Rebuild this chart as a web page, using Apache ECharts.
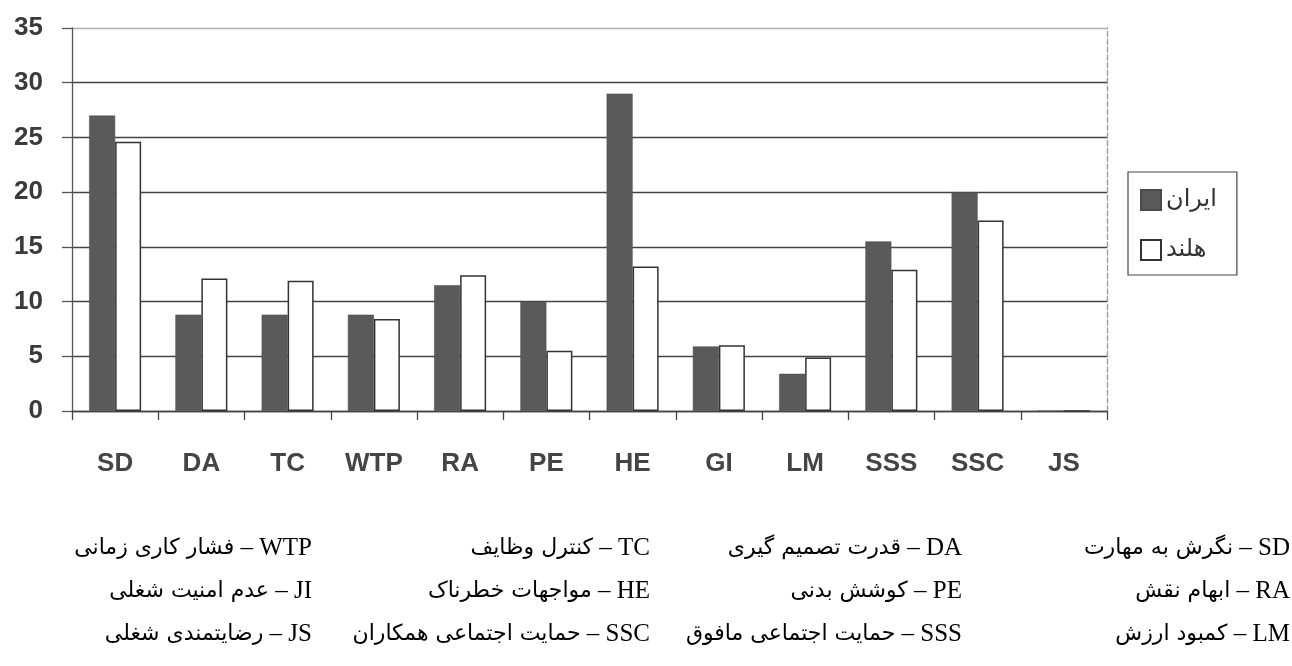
<!DOCTYPE html>
<html>
<head>
<meta charset="utf-8">
<script src="https://cdn.jsdelivr.net/npm/echarts@6/dist/echarts.min.js"></script>
<style>
html,body{margin:0;padding:0;background:#fff;}
#chart{width:1292px;height:666px;}
</style>
</head>
<body>
<div id="chart"></div>
<script>
// ---- data ----
var categories = ['SD','DA','TC','WTP','RA','PE','HE','GI','LM','SSS','SSC','JS'];
var iran = [27, 8.8, 8.8, 8.8, 11.5, 10, 29, 5.9, 3.4, 15.5, 20, 0];
var netherlands = [24.6, 12.1, 11.9, 8.4, 12.4, 5.5, 13.2, 6.0, 4.9, 12.9, 17.4, 0];
var seriesNames = ['ایران', 'هلند'];
var yTicks = [0, 5, 10, 15, 20, 25, 30, 35];
// glossary columns (right to left), rows top to bottom
var glossAbbr = [
  ['SD', 'RA', 'LM'],
  ['DA', 'PE', 'SSS'],
  ['TC', 'HE', 'SSC'],
  ['WTP', 'JI', 'JS']
];
var glossDesc = [
  ['نگرش به مهارت', 'ابهام نقش', 'کمبود ارزش'],
  ['قدرت تصمیم گیری', 'کوشش بدنی', 'حمایت اجتماعی مافوق'],
  ['کنترل وظایف', 'مواجهات خطرناک', 'حمایت اجتماعی همکاران'],
  ['فشار کاری زمانی', 'عدم امنیت شغلی', 'رضایتمندی شغلی']
];

var chart = echarts.init(document.getElementById('chart'));

var colRight = [1290, 962, 650, 312];
var rowY = [548, 591, 634];
var graphics = [];
for (var c = 0; c < glossAbbr.length; c++) {
  for (var r = 0; r < glossAbbr[c].length; r++) {
    graphics.push({
      type: 'text',
      x: colRight[c],
      y: rowY[r],
      style: {
        text: '{fa|' + glossDesc[c][r] + '}{ab| – ' + glossAbbr[c][r] + '}',
        align: 'right',
        verticalAlign: 'middle',
        rich: {
          fa: {fontFamily: '"DejaVu Sans", "Noto Sans", sans-serif', fontSize: 22, color: '#333'},
          ab: {fontFamily: '"Liberation Serif", "DejaVu Serif", serif', fontSize: 25, color: '#333'}
        }
      }
    });
  }
}

var gridColors = yTicks.map(function (v, i) { return i === yTicks.length - 1 ? '#b0b0b0' : '#444'; });

chart.setOption({
  animation: false,
  backgroundColor: '#fff',
  grid: {left: 72, right: 185, top: 28, bottom: 255, containLabel: false},
  legend: {
    orient: 'vertical',
    left: 1128,
    top: 172,
    padding: [16, 20, 13, 12],
    itemGap: 26,
    itemWidth: 20,
    itemHeight: 20,
    icon: 'rect',
    borderColor: '#444',
    borderWidth: 1.2,
    textStyle: {fontFamily: '"DejaVu Sans", sans-serif', fontSize: 24, color: '#333'},
    data: seriesNames
  },
  xAxis: {
    type: 'category',
    data: categories,
    boundaryGap: true,
    axisLine: {lineStyle: {color: '#444', width: 1.3}},
    axisTick: {show: true, alignWithLabel: false, length: 9, lineStyle: {color: '#444', width: 1.3}},
    axisLabel: {margin: 40, fontFamily: '"Liberation Sans", Arial, sans-serif', fontWeight: 'bold', fontSize: 26, color: '#444'},
    splitLine: {show: false}
  },
  yAxis: [{
    type: 'value',
    min: 0,
    max: 35,
    interval: 5,
    axisLine: {show: true, lineStyle: {color: '#555', width: 1.3}},
    axisTick: {show: true, length: 10, lineStyle: {color: '#555', width: 1.3}},
    axisLabel: {margin: 29, fontFamily: '"Liberation Sans", Arial, sans-serif', fontWeight: 'bold', fontSize: 26, color: '#3a3a3a'},
    splitLine: {show: true, lineStyle: {color: gridColors, width: 1.3}}
  }, {
    type: 'value',
    position: 'right',
    min: 0,
    max: 35,
    interval: 5,
    axisLine: {show: true, lineStyle: {color: '#999', width: 1.3, type: 'dashed'}},
    axisTick: {show: false},
    axisLabel: {show: false},
    splitLine: {show: false}
  }],
  series: [{
    name: seriesNames[0],
    type: 'bar',
    data: iran,
    barWidth: 26,
    barGap: '0%',
    itemStyle: {color: '#5a5a5a', borderColor: '#4a4a4a', borderWidth: 0.5}
  }, {
    name: seriesNames[1],
    type: 'bar',
    data: netherlands,
    barWidth: 26,
    barGap: '0%',
    itemStyle: {color: '#ffffff', borderColor: '#333', borderWidth: 1.5}
  }],
  graphic: graphics
});
</script>
</body>
</html>
